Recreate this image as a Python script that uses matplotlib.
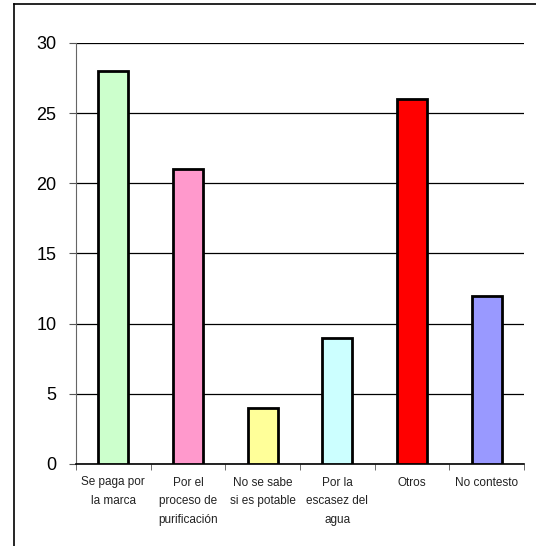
import matplotlib.pyplot as plt
from matplotlib.lines import Line2D
import numpy as np

plt.rcParams['font.family'] = ['Liberation Sans', 'DejaVu Sans']

# chart data
categories = ['Se paga por\nla marca', 'Por el\nproceso de\npurificación',
              'No se sabe\nsi es potable', 'Por la\nescasez del\nagua',
              'Otros', 'No contesto']
values = [28, 21, 4, 9, 26, 12]
colors = ['#CCFFCC', '#FF99CC', '#FFFF99', '#CCFFFF', '#FF0000', '#9999FF']
yticks = [0, 5, 10, 15, 20, 25, 30]

W, H = 536, 546
fig = plt.figure(figsize=(W / 100, H / 100), dpi=100)
ax = fig.add_axes([76 / W, 1 - 464 / H, (524 - 76) / W, (464 - 43) / H])

x = np.arange(len(categories))
ax.bar(x, values, width=0.4, color=colors, edgecolor='black', linewidth=2,
       zorder=3)

ax.set_xlim(-0.5, len(categories) - 0.5)
ax.set_ylim(0, 30)
ax.set_yticks(yticks)
ax.yaxis.grid(True, color='black', linewidth=0.9, zorder=0)
ax.tick_params(axis='y', labelsize=13, length=5, pad=9, color='#555555')

# category labels between tick marks at boundaries
ax.set_xticks(x)
ax.set_xticklabels(categories, fontsize=8.5, linespacing=1.75, color='#222222')
ax.tick_params(axis='x', length=0, pad=9)
ax.set_xticks(np.arange(len(categories) + 1) - 0.5, minor=True)
ax.tick_params(axis='x', which='minor', length=4, color='#555555')

for side in ['top', 'right']:
    ax.spines[side].set_visible(False)
ax.spines['left'].set_color('#666666')
ax.spines['bottom'].set_color('black')
ax.spines['bottom'].set_linewidth(1.2)

# outer chart border (only left and top visible in the crop)
fig.add_artist(Line2D([13.5 / W, 13.5 / W], [0, 1 - 3.5 / H],
                      color='black', linewidth=1.2))
fig.add_artist(Line2D([13.5 / W, 1], [1 - 3.5 / H, 1 - 3.5 / H],
                      color='black', linewidth=1.2))

fig.savefig('out.png', dpi=100, facecolor='white')
